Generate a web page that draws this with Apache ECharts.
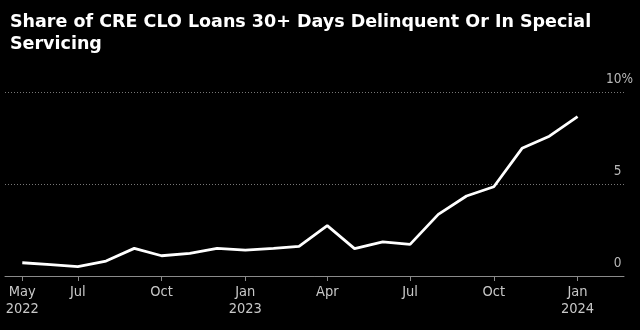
<!DOCTYPE html>
<html>
<head>
<meta charset="utf-8">
<script src="https://cdn.jsdelivr.net/npm/echarts@6/dist/echarts.min.js"></script>
<style>
html,body{margin:0;padding:0;background:#000;}
#chart{width:640px;height:330px;}
</style>
</head>
<body>
<div id="chart"></div>
<script>
const titleText = 'Share of CRE CLO Loans 30+ Days Delinquent Or In Special\nServicing';
const months = ['2022-05','2022-06','2022-07','2022-08','2022-09','2022-10','2022-11','2022-12',
  '2023-01','2023-02','2023-03','2023-04','2023-05','2023-06','2023-07','2023-08','2023-09','2023-10','2023-11','2023-12','2024-01'];
const values = [0.72,0.62,0.51,0.81,1.5,1.1,1.23,1.5,1.41,1.5,1.61,2.74,1.49,1.85,1.72,3.35,4.35,4.85,6.94,7.6,8.66];
const tickMonths = ['2022-05','2022-07','2022-10','2023-01','2023-04','2023-07','2023-10','2024-01'];
const tickLabels = ['May\n2022','Jul','Oct','Jan\n2023','Apr','Jul','Oct','Jan\n2024'];
const yTicks = [0,5,10];

// day number since epoch
function dn(s, day){ const p = s.split('-'); return Date.UTC(+p[0], +p[1]-1, day || 1) / 86400000; }
const tickPos = tickMonths.map(m => dn(m));

const chart = echarts.init(document.getElementById('chart'));
chart.setOption({
  backgroundColor: '#000',
  animation: false,
  title: {
    text: titleText, left: 5, top: 6,
    textStyle: {color:'#fff', fontSize:17.5, fontWeight:'bold', fontFamily:'DejaVu Sans', lineHeight:22}
  },
  grid: {left: 5, right: 16, top: 92, bottom: 54},
  xAxis: {
    type: 'value',
    min: dn('2022-04', 12),
    max: dn('2024-02', 21),
    axisLine: {show:true, onZero:false, lineStyle:{color:'#8a8a8a', width:1}},
    axisTick: {show:true, length:5, lineStyle:{color:'#8a8a8a'}, customValues: tickPos},
    axisLabel: {
      customValues: tickPos,
      color:'#c8c8c8', fontSize:14.5, fontFamily:'DejaVu Sans Condensed', lineHeight:17, margin:8,
      formatter: function(v){ const i = tickPos.indexOf(v); return i >= 0 ? tickLabels[i] : ''; }
    },
    splitLine: {show:false}
  },
  yAxis: {
    type: 'value', position: 'right', min: 0, max: 10, interval: 5,
    axisLine: {show:false}, axisTick: {show:false},
    splitLine: {show:true, lineStyle:{color:'#777', type:[1,2], width:1}},
    axisLabel: {
      color:'#b8b8b8', fontSize:13.5, fontFamily:'DejaVu Sans Condensed',
      align:'right', verticalAlign:'bottom', margin:9, padding:[0,0,6,0],
      formatter: function(v){ return v === yTicks[yTicks.length-1] ? v + '%' : v + '{h|%}'; },
      rich: {h:{color:'rgba(0,0,0,0)', fontSize:13.5, fontFamily:'DejaVu Sans Condensed'}}
    }
  },
  series: [{
    type: 'line',
    data: months.map((m,i) => [dn(m), values[i]]),
    symbol: 'none',
    lineStyle: {color:'#fff', width:2.8},
    itemStyle: {color:'#fff'}
  }]
});
</script>
</body>
</html>
